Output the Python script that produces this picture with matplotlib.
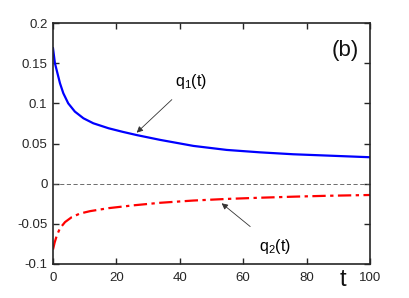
import matplotlib
matplotlib.use("Agg")
import matplotlib.pyplot as plt

# values
t1 = [0, 0.6, 1.4, 2.2, 3.25, 4.8, 6.9, 9.6, 12.7, 17.5, 22, 26.4, 33.8, 44.3,
      54.8, 65.3, 75.8, 86.3, 100]
q1 = [0.1686, 0.150, 0.1375, 0.125, 0.1126, 0.100, 0.0897, 0.0814, 0.0752,
      0.069, 0.0645, 0.0605, 0.0545, 0.047, 0.042, 0.039, 0.0366, 0.035, 0.0329]

t2 = [0, 0.5, 1.2, 2.2, 3.8, 5.9, 8.5, 11.7, 17.5, 25.3, 33.8, 44.3, 54.8,
      65.3, 75.8, 86.3, 100]
q2 = [-0.082, -0.0735, -0.0645, -0.0555, -0.0478, -0.0417, -0.0372, -0.0342,
      -0.0305, -0.027, -0.0238, -0.021, -0.019, -0.0175, -0.0162, -0.0151,
      -0.0141]

xticks = [0, 20, 40, 60, 80, 100]
yticks = [-0.1, -0.05, 0, 0.05, 0.1, 0.15, 0.2]
ytick_labels = ["-0.1", "-0.05", "0", "0.05", "0.1", "0.15", "0.2"]

plt.rcParams["font.family"] = ["Liberation Sans", "DejaVu Sans"]
plt.rcParams["mathtext.default"] = "regular"

fig = plt.figure(figsize=(4.09, 2.98), dpi=100)
ax = fig.add_axes([0.1296, 0.1141, 0.775, 0.8087])

ax.plot(t1, q1, color="#0000ff", linewidth=1.6)
ax.plot(t2, q2, color="#ff0000", linewidth=1.6, linestyle=(0, (6, 2, 1.5, 2)))
ax.plot([0, 100], [0, 0], color="#555555", linewidth=0.6, linestyle=(0, (5, 3)))

ax.set_xlim(0, 100)
ax.set_ylim(-0.1, 0.2)
ax.set_xticks(xticks)
ax.set_xticklabels([str(v) for v in xticks])
ax.set_yticks(yticks)
ax.set_yticklabels(ytick_labels)

ax.tick_params(direction="in", top=True, right=True, length=4, width=1.0,
               labelsize=9.5, colors="#262626")
ax.tick_params(axis="x", pad=6)
ax.tick_params(axis="y", pad=4)
for s in ax.spines.values():
    s.set_linewidth(1.2)
    s.set_color("#262626")

ax.text(0.965, 0.93, "(b)", transform=ax.transAxes, ha="right", va="top",
        fontsize=16, color="#111111")

ax.annotate("q$_1$(t)", xy=(26.4, 0.0635), xytext=(38.5, 0.127),
            fontsize=11.5, ha="left", va="center",
            arrowprops=dict(arrowstyle="-|>", color="#333333", lw=0.6,
                            shrinkA=6, shrinkB=0, mutation_scale=9))
ax.annotate("q$_2$(t)", xy=(53.2, -0.0244), xytext=(65, -0.0785),
            fontsize=11.5, ha="left", va="center",
            arrowprops=dict(arrowstyle="-|>", color="#333333", lw=0.6,
                            shrinkA=9, shrinkB=0, mutation_scale=9))

fig.text(343 / 409, 1 - 280 / 298, "t", fontsize=17, ha="center", va="center",
         color="#111111")

fig.savefig("out.png", dpi=100)
